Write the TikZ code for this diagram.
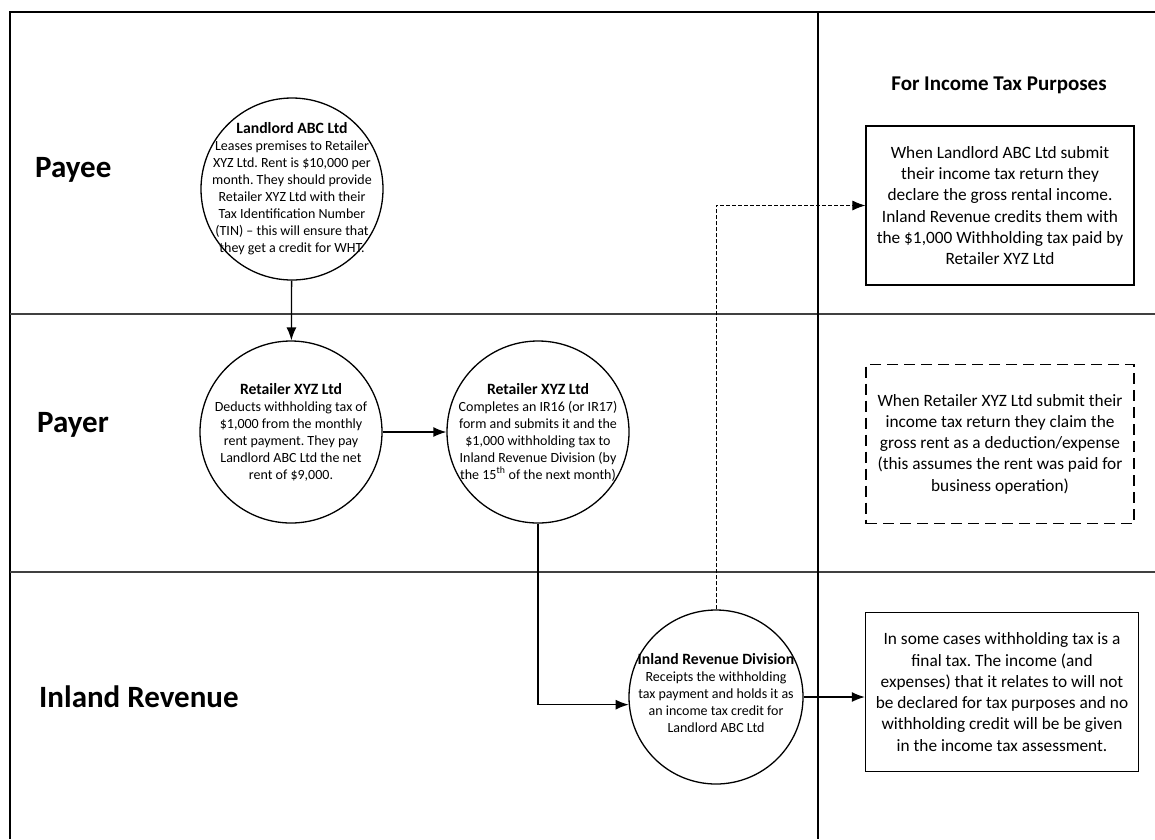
\documentclass[tikz,border=0pt]{standalone}
\usepackage{fontspec}
\setmainfont{Carlito}
\usetikzlibrary{arrows.meta,positioning,calc}
\frenchspacing
\newcommand{\btitle}[1]{{\fontsize{15.7}{18}\selectfont\bfseries #1}}

\begin{document}
\begin{tikzpicture}[x=1pt,y=-1pt,
    >={Latex[length=13pt,width=10pt]},
    bubble/.style={draw, circle, line width=1.3pt, minimum size=182pt, inner sep=0pt},
    bubbletext/.style={align=center, font=\fontsize{14}{17}\selectfont},
    note/.style={draw, line width=1.3pt, minimum width=268pt, minimum height=159pt, align=center, font=\fontsize{17.3}{21.3}\selectfont},
    lane/.style={anchor=west, inner sep=0pt, font=\fontsize{31}{36}\selectfont\bfseries},
    flow/.style={->, line width=1.3pt}]
    \useasboundingbox (0,0) rectangle (1155,839);

    % Frame and swim lanes
    \draw[line width=2pt] (10,839) -- (10,12) -- (1155,12);
    \draw[line width=2pt, black!75] (10,314) -- (1155,314);
    \draw[line width=2pt, black!75] (10,572) -- (1155,572);
    \draw[line width=1.5pt] (818,12) -- (818,839);

    % Lane labels
    \node[lane] (payee) at (35,170) {Payee};
    \node[lane] (payer) at (37,425) {Payer};
    \node[lane] (revenue) at (39,697) {Inland Revenue};

    % Column heading
    \node[font=\fontsize{21}{24}\selectfont\bfseries] (head) at (999,85) {For Income Tax Purposes};

    % Landlord
    \node[bubble] (land) at (292,189) {};
    \node[bubbletext] (landtxt) at (land) {\btitle{Landlord ABC Ltd}\\Leases premises to Retailer\\XYZ Ltd. Rent is \$10,000 per\\month. They should provide\\Retailer XYZ Ltd with their\\Tax Identification Number\\(TIN) -- this will ensure that\\they get a credit for WHT.};

    % Retailer deducts
    \node[bubble] (ret1) at (291,432) {};
    \node[bubbletext] (ret1txt) at (ret1) {\btitle{Retailer XYZ Ltd}\\Deducts withholding tax of\\\$1,000 from the monthly\\rent payment. They pay\\Landlord ABC Ltd the net\\rent of \$9,000.};

    % Retailer pays over
    \node[bubble] (ret2) at (538,432) {};
    \node[bubbletext] (ret2txt) at (ret2) {\btitle{Retailer XYZ Ltd}\\Completes an IR16 (or IR17)\\form and submits it and the\\\$1,000 withholding tax to\\Inland Revenue Division (by\\the 15\textsuperscript{th} of the next month)};

    % Inland Revenue Division
    \node[bubble, minimum size=174pt] (ird) at (716,697) {};
    \node[bubbletext] (irdtxt) at ($(ird)+(0,-4)$) {\btitle{Inland Revenue Division}\\Receipts the withholding\\tax payment and holds it as\\an income tax credit for\\Landlord ABC Ltd};

    % Income tax notes
    \node[note] (tax1) at (1000,205.5) {When Landlord ABC Ltd submit\\their income tax return they\\declare the gross rental income.\\Inland Revenue credits them with\\the \$1,000 Withholding tax paid by\\Retailer XYZ Ltd};
    \node[note, dash pattern=on 11pt off 6pt] (tax2) at (1000,444) {When Retailer XYZ Ltd submit their\\income tax return they claim the\\gross rent as a deduction/expense\\(this assumes the rent was paid for\\business operation)};
    \node[note, minimum width=273pt] (tax3) at (1002,692) {In some cases withholding tax is a\\final tax. The income (and\\expenses) that it relates to will not\\be declared for tax purposes and no\\withholding credit will be be given\\in the income tax assessment.};

    % Flow
    \draw[flow] (land) -- (ret1);
    \draw[flow] (ret1) -- (ret2);
    \draw[flow] (ret2.south) |- (ird.185);
    \draw[flow] (ird.east) -- (ird.east -| tax3.west);
    \draw[flow, line width=0.8pt, dash pattern=on 4pt off 2pt] (ird.north) |- (tax1.west);
\end{tikzpicture}
\end{document}
